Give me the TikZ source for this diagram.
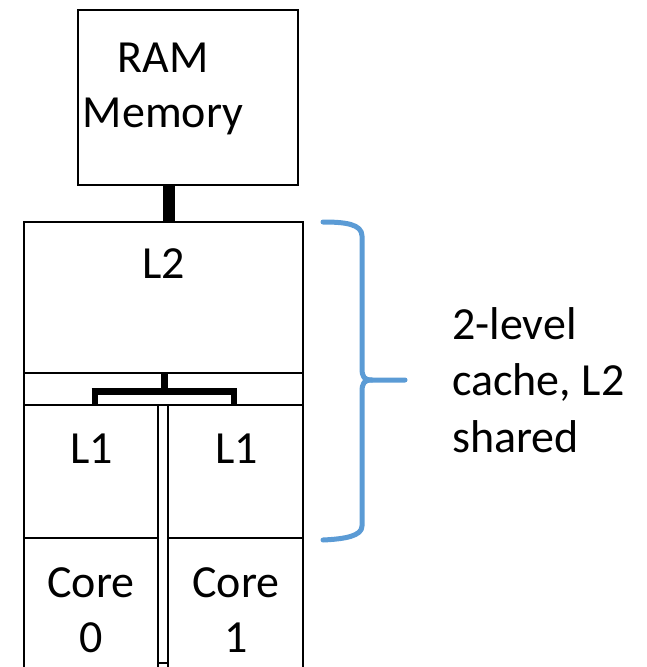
\documentclass[tikz,border=0pt]{standalone}
\usepackage{fontspec}
\setmainfont{Carlito}
\definecolor{braceblue}{RGB}{91,155,213}
\begin{document}
\begin{tikzpicture}[x=1pt,y=-1pt,
  box/.style={draw, line width=1.8pt, rectangle, inner sep=0pt, outer sep=0pt, anchor=north west},
  lbl/.style={font=\fontsize{46}{55}\selectfont, align=center, inner sep=0pt, anchor=base},
  sidelbl/.style={font=\fontsize{46}{56.5}\selectfont, align=left, inner sep=0pt, anchor=base west},
  ramlink/.style={line width=12pt},
  buslink/.style={line width=7pt},
  busdrop/.style={line width=6pt},
  bracestyle/.style={draw=braceblue, line width=5pt, line cap=round, line join=round}]
\useasboundingbox (0,0) rectangle (646,667);

% boxes
\node[box, minimum width=220pt, minimum height=175pt] (ram) at (78,10) {};
\node[box, minimum width=279pt, minimum height=151pt] (l2) at (24,222) {};
\node[box, minimum width=279pt, minimum height=32pt] (band) at (24,373) {};
\node[box, minimum width=134pt, minimum height=133pt] (l1a) at (24,405) {};
\node[box, minimum width=135pt, minimum height=133pt] (l1b) at (168,405) {};
\node[box, minimum width=134pt, minimum height=140pt] (core0) at (24,538) {};
\node[box, minimum width=135pt, minimum height=140pt] (core1) at (168,538) {};
\node[box, minimum width=10pt, minimum height=20pt] (gapbox) at (158,663) {};

% labels (base anchor = baseline of last line)
\node[lbl] (ramtxt) at (163,127) {RAM\\Memory};
\node[lbl] (l2txt) at (164,278) {L2};
\node[lbl] (l1atxt) at (92,463) {L1};
\node[lbl] (l1btxt) at (237,463) {L1};
\node[lbl] (core0txt) at (91,652) {Core\\0};
\node[lbl] (core1txt) at (236,652) {Core\\1};
\node[sidelbl] (note) at (452,452) {2-level\\cache, L2\\shared};

% RAM to L2 link
\coordinate (linkx) at (169,200);
\draw[ramlink] (linkx |- ram.south) -- (linkx |- l2.north);

% shared bus from L2 to both L1
\coordinate (busmid) at (164,391.5);
\coordinate (busleft) at (94.5,391.5);
\coordinate (busright) at (234,391.5);
\draw[buslink] (busmid |- l2.south) -- (busmid);
\draw[buslink] ([xshift=-3pt]busleft) -- ([xshift=3pt]busright);
\draw[busdrop] (busleft) -- (busleft |- l1a.north);
\draw[busdrop] (busright) -- (busright |- l1b.north);

% brace
\coordinate (btop) at (323,222);
\coordinate (bbot) at (323,540);
\coordinate (btip) at (405,380);
\draw[bracestyle] (btop) .. controls (345,222) and (362,224) .. (362,236)
  -- (362,368) .. controls (362,377) and (364,380) .. (372,380) -- (btip);
\draw[bracestyle] (372,380) .. controls (364,380) and (362,383) .. (362,392)
  -- (362,526) .. controls (362,536) and (345,539) .. (bbot);
\end{tikzpicture}
\end{document}
